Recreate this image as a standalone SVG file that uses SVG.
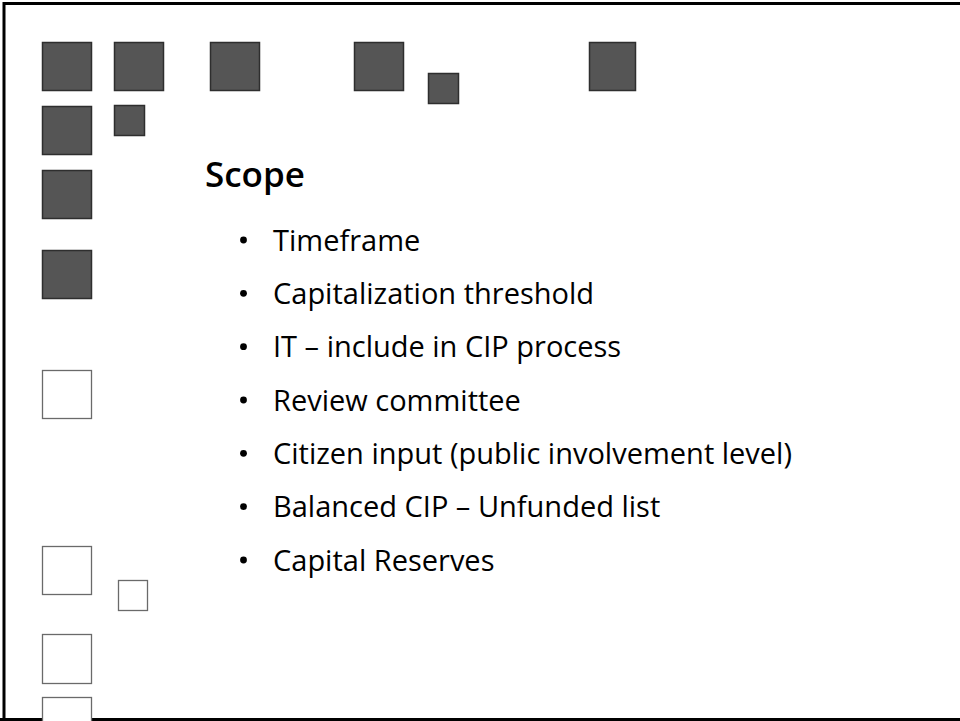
<svg xmlns="http://www.w3.org/2000/svg" width="960" height="721" viewBox="0 0 960 721">
<style>
.d{fill:#555555;stroke:#2e2e2e;stroke-width:1.5}
.w{fill:#ffffff;stroke:#6a6a6a;stroke-width:1.3}
.t{font-family:"Open Sans","DejaVu Sans",sans-serif;fill:#000}
.h{font-size:35px;font-weight:600}
.b{font-size:29px}
</style>
<rect width="960" height="721" fill="#ffffff"/>
<g id="frame" fill="none" stroke="#000" stroke-width="3">
<path d="M4,721 V3.5 H960"/>
<path d="M0,719.5 H960"/>
</g>
<g id="squares">
<rect class="d" x="42.5" y="42.5" width="49" height="48"/>
<rect class="d" x="114.5" y="42.5" width="49" height="48"/>
<rect class="d" x="210.5" y="42.5" width="49" height="48"/>
<rect class="d" x="354.5" y="42.5" width="49" height="48"/>
<rect class="d" x="589.5" y="42.5" width="46" height="48"/>
<rect class="d" x="428.5" y="73.5" width="30" height="30"/>
<rect class="d" x="42.5" y="106.5" width="49" height="48"/>
<rect class="d" x="114.5" y="105.5" width="30" height="30"/>
<rect class="d" x="42.5" y="170.5" width="49" height="48"/>
<rect class="d" x="42.5" y="250.5" width="49" height="48"/>
<rect class="w" x="42.5" y="370.5" width="49" height="48"/>
<rect class="w" x="42.5" y="546.5" width="49" height="48"/>
<rect class="w" x="118.5" y="580.5" width="29" height="30"/>
<rect class="w" x="42.5" y="634.5" width="49" height="49"/>
<rect class="w" x="42.5" y="697.5" width="49" height="30"/>
</g>
<g id="title"><text class="t h" x="205" y="187">Scope</text></g>
<g id="bullets" class="t b">
<g fill="#000">
<circle cx="243.5" cy="240" r="3.4"/>
<circle cx="243.5" cy="293.3" r="3.4"/>
<circle cx="243.5" cy="346.7" r="3.4"/>
<circle cx="243.5" cy="400" r="3.4"/>
<circle cx="243.5" cy="453.3" r="3.4"/>
<circle cx="243.5" cy="506.7" r="3.4"/>
<circle cx="243.5" cy="560" r="3.4"/>
</g>
<text x="273" y="250.5">Timeframe</text>
<text x="273" y="303.8">Capitalization threshold</text>
<text x="273" y="357.2">IT – include in CIP process</text>
<text x="273" y="410.5">Review committee</text>
<text x="273" y="463.8">Citizen input (public involvement level)</text>
<text x="273" y="517.2">Balanced CIP – Unfunded list</text>
<text x="273" y="570.5">Capital Reserves</text>
</g>
</svg>
